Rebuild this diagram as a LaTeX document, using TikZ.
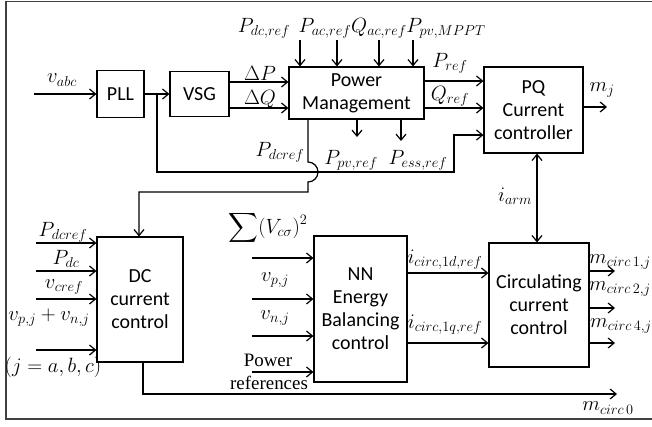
\documentclass[tikz,border=0pt]{standalone}
\usepackage{amsmath}
\usepackage{fontspec}
\setmainfont{Carlito}
\newfontfamily\timesf{Liberation Serif}
\usetikzlibrary{arrows.meta}
\begin{document}
\begin{tikzpicture}[x=1bp,y=-1bp,line width=1.2bp,
  font=\fontsize{20}{23}\selectfont,
  box/.style={draw, align=center, inner sep=0pt},
  arr/.style={-{Straight Barb[length=6bp,width=10bp]}},
  darr/.style={{Straight Barb[length=6bp,width=10bp]}-{Straight Barb[length=6bp,width=10bp]}},
  lbl/.style={inner sep=0pt},
  serif/.style={inner sep=0pt, font=\fontsize{19}{22}\selectfont\timesf}]
\useasboundingbox (0,0) rectangle (652,426);
\draw[line width=1.5bp, black!75] (660,1.5) -- (6,1.5) -- (6,419) -- (660,419);

% blocks
\node[box, minimum width=47bp, minimum height=47bp] (pll) at (120.5,94) {PLL};
\node[box, minimum width=59bp, minimum height=45bp] (vsg) at (199.5,94) {VSG};
\node[box, minimum width=135bp, minimum height=52bp] (pm) at (356.5,93) {Power\\Management};
\node[box, minimum width=99bp, minimum height=86bp] (pq) at (533.5,110) {PQ\\Current\\controller};
\node[box, minimum width=86bp, minimum height=125bp] (dc) at (140,299.5) {DC\\current\\control};
\node[box, minimum width=93bp, minimum height=146bp] (nn) at (360.5,309) {NN\\Energy\\Balancing\\control};
\node[box, minimum width=100bp, minimum height=124bp] (cc) at (539,305) {Circulating\\current\\control};

% PLL / VSG chain
\coordinate (vin) at (34,94);
\draw[arr] (vin) -- (pll.west);
\node[lbl] (lvabc) at (62,80) {$v_{abc}$};
\draw[arr] (pll.east) -- (vsg.west);
\coordinate (br) at (157,94);
\draw[arr] (br) -- (157,172) -- (454,172) -- (454,135) -- (pq.west |- 0,135);

\draw[arr] (vsg.east |- 0,82) -- (pm.west |- 0,82);
\draw[arr] (vsg.east |- 0,108) -- (pm.west |- 0,108);
\node[lbl] (ldp) at (260,73) {$\Delta P$};
\node[lbl] (ldq) at (260,99) {$\Delta Q$};

% top references
\node[lbl] (lpdc) at (264,28) {$P_{dc,ref}$};
\node[lbl] (lpac) at (325,28) {$P_{ac,ref}$};
\node[lbl] (lqac) at (379,28) {$Q_{ac,ref}$};
\node[lbl] (lppv) at (446,28) {$P_{pv,MPPT}$};
\coordinate (t1) at (300,40);
\coordinate (t2) at (337,40);
\coordinate (t3) at (379,40);
\coordinate (t4) at (413,40);
\draw[arr] (t1) -- (pm.north -| t1);
\draw[arr] (t2) -- (pm.north -| t2);
\draw[arr] (t3) -- (pm.north -| t3);
\draw[arr] (t4) -- (pm.north -| t4);

% PM outputs
\draw[arr] (pm.east |- 0,81) -- (pq.west |- 0,81);
\draw[arr] (pm.east |- 0,108) -- (pq.west |- 0,108);
\node[lbl] (lpref) at (450,63) {$P_{ref}$};
\node[lbl] (lqref) at (450,96) {$Q_{ref}$};
\coordinate (mjo) at (607,107);
\draw[arr] (pq.east |- mjo) -- (mjo);
\node[lbl] (lmj) at (602,90) {$m_j$};

\coordinate (d1) at (357,137);
\coordinate (d2) at (401,141);
\draw[arr] (pm.south -| d1) -- (d1);
\draw[arr] (pm.south -| d2) -- (d2);
\node[lbl] (lppvr) at (351,160) {$P_{pv,ref}$};
\node[lbl] (lpess) at (418,160) {$P_{ess,ref}$};

% Pdcref to DC block with jump
\draw[arr] (pm.south -| 308,0) -- (308,162) arc[start angle=-90,end angle=90,radius=10]
  -- (308,192) -- (139,192) -- (dc.north -| 139,0);
\node[lbl] (lpdcref) at (280,152) {$P_{dcref}$};

% i_arm
\draw[darr] (pq.south -| 537,0) -- (cc.north -| 537,0);
\node[lbl] (liarm) at (515,196) {$i_{arm}$};

% DC inputs
\coordinate (a1) at (36,243);
\coordinate (a2) at (36,271);
\coordinate (a3) at (36,299);
\coordinate (a4) at (36,350);
\draw[arr] (a1) -- (dc.west |- a1);
\draw[arr] (a2) -- (dc.west |- a2);
\draw[arr] (a3) -- (dc.west |- a3);
\draw[arr] (a4) -- (dc.west |- a4);
\node[lbl] (l1) at (63,232) {$P_{dcref}$};
\node[lbl] (l2) at (66,259) {$P_{dc}$};
\node[lbl] (l3) at (64,287) {$v_{cref}$};
\node[lbl] (l4) at (49,318) {$v_{p,j}+v_{n,j}$};
\node[lbl] (l5) at (53,367) {$(j=a,b,c)$};

% DC output m_circ0
\coordinate (mc0) at (617,394);
\draw[arr] (dc.south -| 143,0) -- (143,394) -- (mc0);
\node[lbl] (lmc0) at (608,408) {$m_{circ\,0}$};

% NN inputs
\node[lbl] (lsum) at (268,228) {$\displaystyle\sum(V_{c\sigma})^2$};
\coordinate (b1) at (252,258);
\coordinate (b2) at (252,299);
\coordinate (b3) at (252,336);
\coordinate (b4) at (252,372);
\draw[arr] (b1) -- (nn.west |- b1);
\draw[arr] (b2) -- (nn.west |- b2);
\draw[arr] (b3) -- (nn.west |- b3);
\draw[arr] (b4) -- (nn.west |- b4);
\node[lbl] (lvp) at (275,280) {$v_{p,j}$};
\node[lbl] (lvn) at (275,318) {$v_{n,j}$};
\node[serif] (lpow) at (268,360) {\timesf Power};
\node[serif] (lref) at (269,383) {\timesf references};

% NN -> circulating
\draw[arr] (nn.east |- 0,273) -- (cc.west |- 0,273);
\draw[arr] (nn.east |- 0,343) -- (cc.west |- 0,343);
\node[lbl] (lid) at (445,260) {$i_{circ,1d,ref}$};
\node[lbl] (liq) at (445,325) {$i_{circ,1q,ref}$};

% circulating outputs
\coordinate (o1) at (615,271);
\coordinate (o2) at (615,308);
\coordinate (o3) at (615,343);
\draw[arr] (cc.east |- o1) -- (o1);
\draw[arr] (cc.east |- o2) -- (o2);
\draw[arr] (cc.east |- o3) -- (o3);
\node[lbl] (lm1) at (620,262) {$m_{circ\,1,j}$};
\node[lbl] (lm2) at (620,289) {$m_{circ\,2,j}$};
\node[lbl] (lm4) at (621,326) {$m_{circ\,4,j}$};
\end{tikzpicture}
\end{document}
